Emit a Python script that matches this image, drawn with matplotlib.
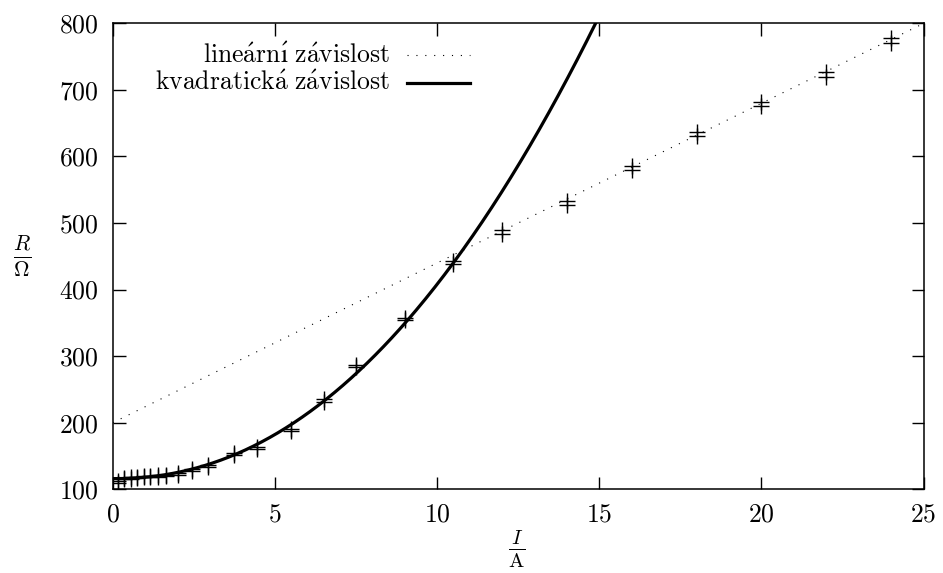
import numpy as np
import matplotlib
matplotlib.use("Agg")
import matplotlib.pyplot as plt
from matplotlib.ticker import FixedLocator

plt.rcParams['mathtext.fontset'] = 'cm'
plt.rcParams['font.family'] = ['cmr10', 'DejaVu Serif']
plt.rcParams['axes.formatter.use_mathtext'] = True

# measured current I [A]
current = [0.15, 0.35, 0.55, 0.75, 0.95, 1.15, 1.4, 1.65, 2.0, 2.45, 2.95,
           3.75, 4.45, 5.5, 6.5, 7.5, 9.0, 10.5, 12, 14, 16, 18, 20, 22, 24]
# resistance, first series [Ohm]
res_a = [112, 117, 118, 119, 120, 120, 121, 122, 124, 130, 137,
         154, 163, 191, 235, 287, 358, 443, 490, 533, 586, 637, 682, 727, 778]
# resistance, second series [Ohm]
res_b = [110, 115, 116, 117, 118, 118, 119, 120, 122, 128, 134,
         151, 160, 187, 231, 283, 354, 439, 484, 527, 579, 631, 676, 719, 770]

# fit parameters
lin_R0, lin_k = 200.0, 24.0              # R = R0 + k*I
quad_R0, quad_c, quad_p = 116.0, 2.115, 2.14   # R = R0 + c*I^p

x_ticks = [0, 5, 10, 15, 20, 25]
y_ticks = [100, 200, 300, 400, 500, 600, 700, 800]

labels = ['$\\mathrm{line\\acute{a}rn\\acute{\u0131}\\ z\\acute{a}vislost}$',
          r'$\mathrm{kvadratick\acute{a}\ z\acute{a}vislost}$']

FS = 18.5

fig = plt.figure(figsize=(9.43, 5.73), dpi=100)
ax = fig.add_axes([0.1195, 0.1461, 0.86, 0.8131])

xs = np.linspace(0, 25, 600)
ax.plot(xs, lin_R0 + lin_k * xs, color='black', lw=0.8,
        linestyle=(0, (1.0, 7.0)))
ax.plot(xs, quad_R0 + quad_c * xs ** quad_p, color='black', lw=2.3)

ax.plot(current, res_a, linestyle='none', marker='+', ms=12, mew=1.0,
        color='black')
ax.plot(current, res_b, linestyle='none', marker='+', ms=12, mew=1.0,
        color='black')

ax.set_xlim(0, 25)
ax.set_ylim(100, 800)
ax.xaxis.set_major_locator(FixedLocator(x_ticks))
ax.yaxis.set_major_locator(FixedLocator(y_ticks))
ax.tick_params(direction='in', length=9, width=1.0, top=True, right=True,
               labelsize=FS, pad=10)
for s in ax.spines.values():
    s.set_linewidth(1.1)

# legend (gnuplot style: right-aligned text, sample on the right)
leg_y = [0.932, 0.872]
styles = [dict(lw=0.8, linestyle=(0, (1.0, 7.0))), dict(lw=2.3)]
for lab, yy, st in zip(labels, leg_y, styles):
    ax.text(0.342, yy, lab, transform=ax.transAxes, ha='right', va='center',
            fontsize=FS)
    ax.plot([0.363, 0.44], [yy, yy], transform=ax.transAxes, color='black',
            **st)

fig.text(22.5 / 943, 1 - 256 / 573, r'$\frac{R}{\Omega}$', ha='center',
         va='center', fontsize=22)
fig.text(517 / 943, 3 / 573, r'$\frac{I}{\mathrm{A}}$', ha='center',
         va='bottom', fontsize=21)

fig.savefig('out.png', dpi=100)
